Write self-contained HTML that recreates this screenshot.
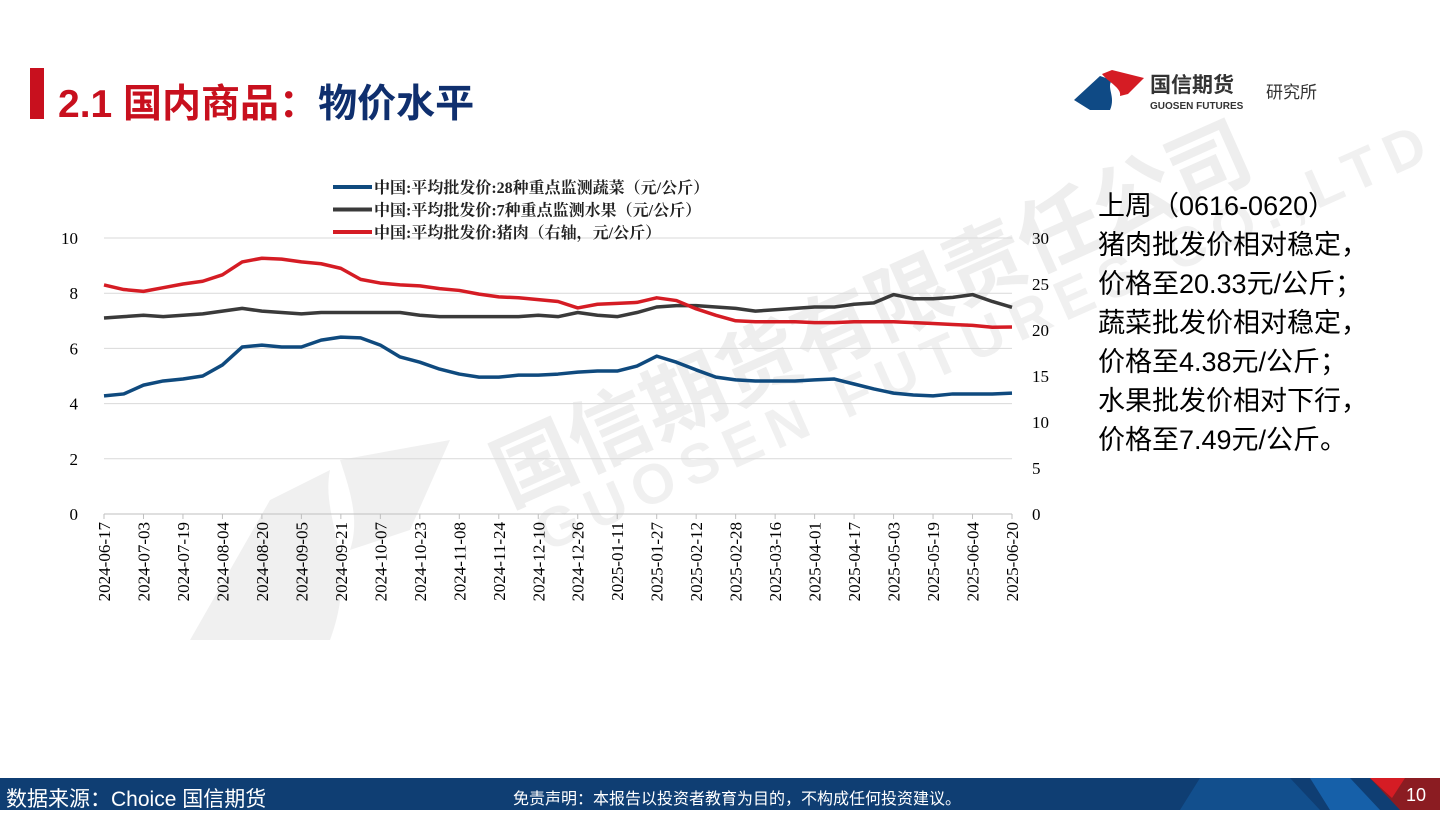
<!DOCTYPE html>
<html><head><meta charset="utf-8">
<style>
body{margin:0;width:1440px;height:810px;position:relative;overflow:hidden;background:#fff;font-family:"Liberation Sans","Noto Sans CJK SC",sans-serif;}
.abs{position:absolute;}
</style></head>
<body>
<div class="abs" style="left:30px;top:68px;width:14px;height:51px;background:#c8101e"></div>
<div class="abs" style="left:58px;top:73px;font-size:39px;font-weight:bold;white-space:nowrap;font-family:'Liberation Sans','Noto Sans CJK SC',sans-serif;"><span style="color:#c8101e">2.1 国内商品：</span><span style="color:#0f2f6e">物价水平</span></div>

<svg class="abs" style="left:1070px;top:66px" width="290" height="48">
<path d="M4 34 L30 10 L42 14 C36 22 46 30 40 44 L20 44 Z" fill="#0f4a85"/>
<path d="M32 8 L42 4 L74 12 L58 28 L50 30 C52 22 38 16 32 8Z" fill="#d51c24"/>
<text x="80" y="26" font-size="21" font-weight="bold" fill="#333" font-family="Liberation Sans,Noto Sans CJK SC,sans-serif">国信期货</text>
<text x="80" y="43" font-size="10" font-weight="bold" fill="#333" font-family="Liberation Sans,sans-serif">GUOSEN FUTURES</text>
<text x="196" y="32" font-size="17" fill="#333" font-family="Liberation Sans,Noto Sans CJK SC,sans-serif">研究所</text>
</svg>

<svg class="abs" style="left:180px;top:440px" width="280" height="210">
<path d="M10 200 L90 60 L150 30 C140 80 180 120 150 200 Z" fill="rgba(0,0,0,0.06)"/>
<path d="M160 20 L270 0 L230 90 L170 110 C180 80 170 50 160 20Z" fill="rgba(0,0,0,0.06)"/>
</svg>
<div class="abs" style="left:470px;top:420px;transform:rotate(-24deg);transform-origin:left top;font-size:82px;font-weight:bold;color:rgba(0,0,0,0.065);white-space:nowrap;font-family:'Liberation Sans','Noto Sans CJK SC',sans-serif;">国信期货有限责任公司</div>
<div class="abs" style="left:525px;top:505px;transform:rotate(-24deg);transform-origin:left top;font-size:56px;font-weight:bold;letter-spacing:10px;color:rgba(0,0,0,0.06);white-space:nowrap;">GUOSEN FUTURES CO.,LTD.</div>

<svg id="chart" class="abs" style="left:0;top:0" width="1060" height="700"></svg>

<div class="abs" style="left:1098px;top:187px;font-size:27px;line-height:39px;color:#000;white-space:nowrap;">
上周（0616-0620）<br>猪肉批发价相对稳定，<br>价格至20.33元/公斤；<br>蔬菜批发价相对稳定，<br>价格至4.38元/公斤；<br>水果批发价相对下行，<br>价格至7.49元/公斤。</div>

<div class="abs" style="left:0;top:778px;width:1440px;height:32px;background:#0f3e73;"></div>
<svg class="abs" style="left:1180px;top:778px" width="260" height="32">
<path d="M20 0 L110 0 L140 32 L0 32Z" fill="#1560a8" opacity="0.5"/>
<path d="M130 0 L170 0 L200 32 L150 32Z" fill="#1a6fc0" opacity="0.7"/>
<path d="M190 0 L260 0 L260 32 L220 32Z" fill="#8b1c22"/>
<path d="M190 0 L225 0 L212 20Z" fill="#d51c24"/>
</svg>
<div class="abs" style="left:6px;top:783px;font-size:21px;color:#fff;white-space:nowrap;">数据来源：Choice  国信期货</div>
<div class="abs" style="left:513px;top:785px;font-size:16px;color:#fff;white-space:nowrap;">免责声明：本报告以投资者教育为目的，不构成任何投资建议。</div>
<div class="abs" style="left:1406px;top:785px;font-size:18px;color:#fff;">10</div>

<script>
const dateLabels=["2024-06-17","2024-07-03","2024-07-19","2024-08-04","2024-08-20","2024-09-05","2024-09-21","2024-10-07","2024-10-23","2024-11-08","2024-11-24","2024-12-10","2024-12-26","2025-01-11","2025-01-27","2025-02-12","2025-02-28","2025-03-16","2025-04-01","2025-04-17","2025-05-03","2025-05-19","2025-06-04","2025-06-20"];
const leftTicks=[0,2,4,6,8,10];
const rightTicks=[0,5,10,15,20,25,30];
const vegetables=[4.28,4.35,4.67,4.82,4.89,5.0,5.4,6.05,6.12,6.05,6.05,6.3,6.41,6.38,6.12,5.69,5.5,5.25,5.07,4.96,4.96,5.03,5.03,5.07,5.14,5.18,5.18,5.36,5.72,5.5,5.22,4.96,4.86,4.82,4.82,4.82,4.86,4.89,4.71,4.53,4.38,4.31,4.28,4.35,4.35,4.35,4.38];
const fruit=[7.1,7.15,7.2,7.15,7.2,7.25,7.35,7.45,7.35,7.3,7.25,7.3,7.3,7.3,7.3,7.3,7.2,7.15,7.15,7.15,7.15,7.15,7.2,7.15,7.3,7.2,7.15,7.3,7.5,7.55,7.55,7.5,7.45,7.35,7.4,7.45,7.5,7.5,7.6,7.65,7.95,7.8,7.8,7.85,7.95,7.7,7.49];
const pork=[24.9,24.4,24.2,24.6,25.0,25.3,26.0,27.4,27.8,27.7,27.4,27.2,26.7,25.5,25.1,24.9,24.8,24.5,24.3,23.9,23.6,23.5,23.3,23.1,22.4,22.8,22.9,23.0,23.5,23.2,22.3,21.6,21.0,20.9,20.9,20.9,20.8,20.8,20.9,20.9,20.9,20.8,20.7,20.6,20.5,20.3,20.33];
const legendNames=["中国:平均批发价:28种重点监测蔬菜（元/公斤）","中国:平均批发价:7种重点监测水果（元/公斤）","中国:平均批发价:猪肉（右轴，元/公斤）"];

const svg=document.getElementById('chart');
const NS='http://www.w3.org/2000/svg';
const X0=104,X1=1012,Y0=514,Y1=238;
const n=vegetables.length;
const xS=i=>X0+(X1-X0)*i/(n-1);
const yL=v=>Y0-(Y0-Y1)*v/10;
const yR=v=>Y0-(Y0-Y1)*v/30;
function el(t,a){const e=document.createElementNS(NS,t);for(const k in a)e.setAttribute(k,a[k]);svg.appendChild(e);return e;}
const serif='Liberation Serif,Noto Serif CJK SC,serif';
leftTicks.forEach(t=>{
  const g=el('line',{x1:X0,x2:X1,y1:yL(t),y2:yL(t),stroke:'#d9d9d9','stroke-width':1});
  
  
  const tx=el('text',{x:78,y:yL(t)+6,'font-size':17,'text-anchor':'end','font-family':serif,fill:'#000'});tx.textContent=t;
  
  
});
rightTicks.forEach(t=>{
  const tx=el('text',{x:1032,y:yR(t)+6,'font-size':17,'font-family':serif,fill:'#000'});tx.textContent=t;
  
  
});
const ax=el('line',{x1:X0,x2:X1,y1:Y0,y2:Y0,stroke:'#bfbfbf'});


dateLabels.forEach((d,j)=>{
  const x=X0+(X1-X0)*j/(dateLabels.length-1);
  el('line',{x1:x,x2:x,y1:Y0,y2:Y0+5,stroke:'#bfbfbf'});
  const tx=el('text',{x:0,y:0,'font-size':17,'text-anchor':'end','font-family':serif,fill:'#000',transform:`translate(${x+6},${Y0+8}) rotate(-90)`});
  tx.textContent=d;
  
  
});
function line(data,sc,color,name){
  const p=el('polyline',{points:data.map((v,i)=>xS(i)+','+sc(v)).join(' '),fill:'none',stroke:color,'stroke-width':3.5,'stroke-linejoin':'round'});
  
  
}
line(fruit,yL,'#3a3a3a','fruit-line');
line(pork,yR,'#d51c24','pork-line');
line(vegetables,yL,'#0f4a7e','vegetable-line');
const lc=['#0f4a7e','#3a3a3a','#d51c24'];
legendNames.forEach((nm,k)=>{
  const y=187+k*22.5;
  const l=el('line',{x1:333,x2:372,y1:y,y2:y,stroke:lc[k],'stroke-width':4});
  
  
  const t=el('text',{x:374,y:y+6,'font-size':16,'font-weight':'bold','font-family':serif,fill:'#222'});t.textContent=nm;
  
  
});
</script>
</body></html>
